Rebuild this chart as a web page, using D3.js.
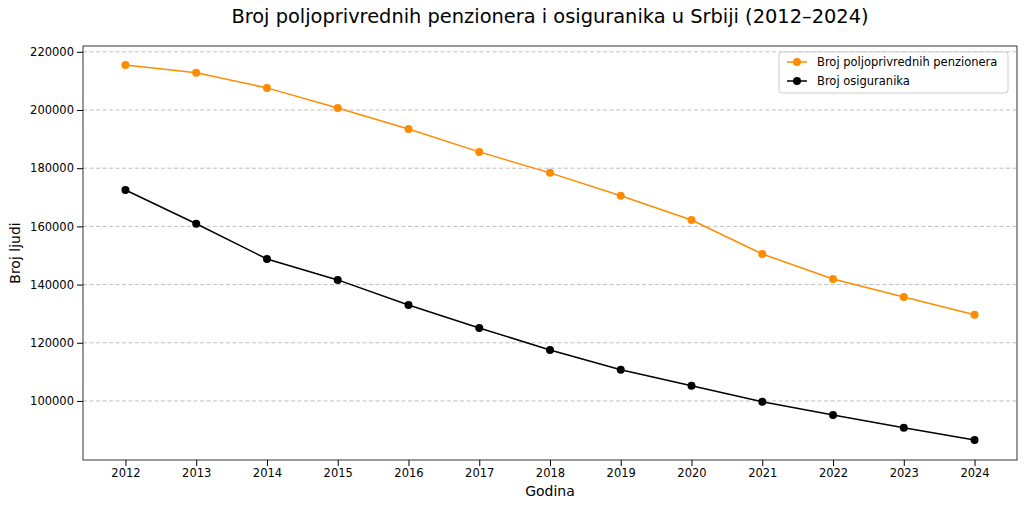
<!DOCTYPE html>
<html><head><meta charset="utf-8">
<script src="https://cdn.jsdelivr.net/npm/d3@7"></script>
<style>body{margin:0;background:#fff;font-family:"DejaVu Sans",sans-serif}</style>
</head><body><svg id="c" width="1024" height="508"></svg>
<script>
const years=[2012,2013,2014,2015,2016,2017,2018,2019,2020,2021,2022,2023,2024];
const penzioneri=[215500,212800,207600,200700,193500,185600,178400,170500,162200,150500,141900,135700,129600];
const osiguranici=[172500,160900,148800,141600,133000,125100,117500,110700,105200,99700,95200,90800,86600];
const yTicks=[100000,120000,140000,160000,180000,200000,220000];
const series=[{name:"Broj poljoprivrednih penzionera",vals:penzioneri,color:"#ff8c00"},{name:"Broj osiguranika",vals:osiguranici,color:"#000000"}];
const L=83,R=1017,T=46,B=460;
const svg=d3.select("#c");
const x=d3.scaleLinear().domain([2011.4,2024.6]).range([L,R]);
const y=d3.scaleLinear().domain([79700,222000]).range([B,T]);
svg.append("g").selectAll("line").data(yTicks).join("line").attr("x1",L).attr("x2",R)
 .attr("y1",d=>y(d)).attr("y2",d=>y(d)).attr("stroke","#b0b0b0").attr("stroke-dasharray","4,2.5").attr("stroke-width",0.8);
const xa=svg.append("g").attr("transform",`translate(0,${B})`).call(d3.axisBottom(x).tickValues(years).tickFormat(d3.format("d")).tickSizeOuter(0));
const ya=svg.append("g").attr("transform",`translate(${L},0)`).call(d3.axisLeft(y).tickValues(yTicks).tickFormat(d3.format("d")).tickSizeOuter(0));
[xa,ya].forEach(a=>{a.selectAll("text").attr("font-size",11.5).attr("font-family","DejaVu Sans").attr("fill","#000");a.select(".domain").remove();a.selectAll("line").attr("stroke","#000");});
svg.append("rect").attr("x",L).attr("y",T).attr("width",R-L).attr("height",B-T).attr("fill","none").attr("stroke","#000").attr("stroke-width",0.8);
const line=d3.line().x((d,i)=>x(years[i])).y(d=>y(d));
series.forEach(s=>{
 svg.append("path").attr("d",line(s.vals)).attr("fill","none").attr("stroke",s.color).attr("stroke-width",1.5);
 svg.append("g").selectAll("circle").data(s.vals).join("circle").attr("cx",(d,i)=>x(years[i])).attr("cy",d=>y(d)).attr("r",4).attr("fill",s.color);
});
svg.append("text").attr("x",550).attr("y",23).attr("text-anchor","middle").attr("font-size",19.4).text("Broj poljoprivrednih penzionera i osiguranika u Srbiji (2012–2024)");
svg.append("text").attr("x",550).attr("y",496).attr("text-anchor","middle").attr("font-size",14).text("Godina");
svg.append("text").attr("transform","translate(20,253) rotate(-90)").attr("text-anchor","middle").attr("font-size",14).text("Broj ljudi");
const lg=svg.append("g").attr("transform","translate(779,52)");
lg.append("rect").attr("width",229).attr("height",41).attr("rx",3).attr("fill","#fff").attr("stroke","#ccc");
series.forEach((s,i)=>{
 const yy=10+i*19;
 lg.append("line").attr("x1",8).attr("x2",28).attr("y1",yy).attr("y2",yy).attr("stroke",s.color).attr("stroke-width",1.5);
 lg.append("circle").attr("cx",18).attr("cy",yy).attr("r",4).attr("fill",s.color);
 lg.append("text").attr("x",38).attr("y",yy+4).attr("font-size",11.5).text(s.name);
});
</script></body></html>
